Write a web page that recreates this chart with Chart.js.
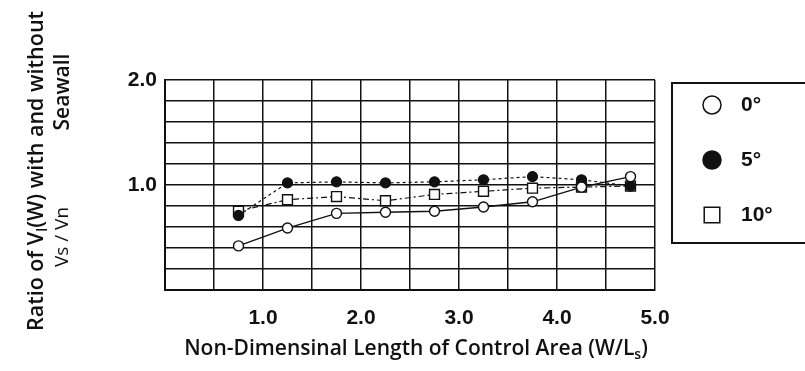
<!DOCTYPE html>
<html>
<head>
<meta charset="utf-8">
<script src="https://cdn.jsdelivr.net/npm/chart.js@4"></script>
<style>
  html, body { margin: 0; padding: 0; background: #fff; }
  #wrap { width: 805px; height: 371px; position: relative; }
</style>
</head>
<body>
<div id="wrap"><canvas id="grafico"></canvas></div>
<script>
// Datos
const longitudes = [0.75, 1.25, 1.75, 2.25, 2.75, 3.25, 3.75, 4.25, 4.75];
const ratio0 = [0.42, 0.59, 0.73, 0.74, 0.75, 0.79, 0.84, 0.98, 1.08];
const ratio5 = [0.71, 1.02, 1.03, 1.02, 1.03, 1.05, 1.08, 1.05, 0.99];
const ratio10 = [0.75, 0.86, 0.89, 0.85, 0.91, 0.94, 0.97, 0.98, 0.99];
const etiquetas = ["0°", "5°", "10°"];
const ticksX = [1, 2, 3, 4, 5];
const ticksY = [1, 2];

const fuente = "'Open Sans', 'DejaVu Sans', sans-serif";
const fuenteTicks = "'Liberation Sans', Arial, sans-serif";

function puntos(valores) {
    return longitudes.map((x, i) => ({ x: x, y: valores[i] }));
}

// Texto con subíndices: partes = [[texto, esSub], ...]
function textoRico(ctx, partes, x, y, size) {
    const anchos = partes.map(p => {
        ctx.font = "600 " + (p[1] ? Math.round(size * 0.65) : size) + "px " + fuente;
        return ctx.measureText(p[0]).width;
    });
    const total = anchos.reduce((a, b) => a + b, 0);
    let cx = x - total / 2;
    partes.forEach((p, i) => {
        ctx.font = "600 " + (p[1] ? Math.round(size * 0.65) : size) + "px " + fuente;
        ctx.fillText(p[0], cx, p[1] ? y + size * 0.3 : y);
        cx += anchos[i];
    });
}

// Títulos de ejes y leyenda dibujados a mano
const extras = {
    id: "extras",
    afterDraw(chart) {
        const ctx = chart.ctx;
        ctx.save();
        ctx.fillStyle = "#111";
        ctx.textBaseline = "middle";
        ctx.textAlign = "left";
        // título eje X
        textoRico(ctx, [["Non-Dimensinal Length of Control Area (W/L", false], ["s", true], [")", false]], 416, 349, 21);
        // título eje Y (girado)
        ctx.save();
        ctx.translate(37, 171);
        ctx.rotate(-Math.PI / 2);
        textoRico(ctx, [["Ratio of V", false], ["l", true], ["(W) with and without", false]], 0, 0, 21.5);
        ctx.restore();
        ctx.save();
        ctx.translate(63, 92);
        ctx.rotate(-Math.PI / 2);
        textoRico(ctx, [["Seawall", false]], 0, 0, 21);
        ctx.restore();
        ctx.save();
        ctx.translate(63, 237);
        ctx.rotate(-Math.PI / 2);
        ctx.font = "19px " + fuente;
        ctx.textAlign = "center";
        ctx.fillText("Vs / Vn", 0, 0);
        ctx.textAlign = "left";
        ctx.restore();

        // leyenda
        ctx.strokeStyle = "#111";
        ctx.lineWidth = 2;
        ctx.strokeRect(672, 83, 160, 160);
        const filas = [105, 160, 215];
        chart.data.datasets.forEach((ds, i) => {
            ctx.fillStyle = ds.pointBackgroundColor;
            ctx.strokeStyle = "#111";
            ctx.lineWidth = 1.5;
            Chart.helpers.drawPoint(ctx, {
                pointStyle: ds.pointStyle,
                radius: ds.pointStyle === "rect" ? 11 : 9,
                rotation: 0,
                borderWidth: 1.5
            }, 712, filas[i]);
            ctx.fillStyle = "#111";
            ctx.font = "bold 21px " + fuenteTicks;
            ctx.textAlign = "left";
            ctx.fillText(ds.label, 741, filas[i]);
        });
        ctx.restore();
    }
};

const ctx = document.getElementById("grafico").getContext("2d");
const grafico = new Chart(ctx, {
    type: "line",
    data: {
        datasets: [
            {
                label: etiquetas[0],
                data: puntos(ratio0),
                borderColor: "#111",
                borderWidth: 1.4,
                pointStyle: "circle",
                pointRadius: 5,
                pointBorderWidth: 1.4,
                pointBackgroundColor: "#fff",
                pointBorderColor: "#111"
            },
            {
                label: etiquetas[1],
                data: puntos(ratio5),
                borderColor: "#111",
                borderWidth: 1.2,
                borderDash: [3, 3],
                pointStyle: "circle",
                pointRadius: 5,
                pointBorderWidth: 1.2,
                pointBackgroundColor: "#111",
                pointBorderColor: "#111"
            },
            {
                label: etiquetas[2],
                data: puntos(ratio10),
                borderColor: "#111",
                borderWidth: 1.2,
                borderDash: [6, 3, 2, 3],
                pointStyle: "rect",
                pointRadius: 7,
                pointBorderWidth: 1.4,
                pointBackgroundColor: "#fff",
                pointBorderColor: "#111"
            }
        ]
    },
    options: {
        responsive: true,
        maintainAspectRatio: false,
        animation: false,
        layout: { padding: { left: 0, right: 150, top: 80, bottom: 0 } },
        plugins: { legend: { display: false }, tooltip: { enabled: false } },
        scales: {
            x: {
                type: "linear",
                min: 0,
                max: 5,
                afterFit: s => { s.height = 81; },
                border: { color: "#111", width: 2 },
                grid: { color: "#111", lineWidth: 1.5, drawTicks: false },
                ticks: {
                    stepSize: 0.5,
                    padding: 16,
                    color: "#111",
                    font: { family: fuenteTicks, size: 21, weight: "bold" },
                    maxRotation: 0,
                    autoSkip: false,
                    callback: v => ticksX.includes(v) ? v.toFixed(1) : ""
                }
            },
            y: {
                min: 0,
                max: 2,
                afterFit: s => { s.width = 165; },
                border: { color: "#111", width: 2 },
                grid: { color: "#111", lineWidth: 1.5, drawTicks: false },
                ticks: {
                    stepSize: 0.2,
                    padding: 8,
                    color: "#111",
                    font: { family: fuenteTicks, size: 21, weight: "bold" },
                    autoSkip: false,
                    callback: v => ticksY.some(t => Math.abs(t - v) < 1e-6) ? v.toFixed(1) : ""
                }
            }
        }
    },
    plugins: [extras]
});
</script>
</body>
</html>
